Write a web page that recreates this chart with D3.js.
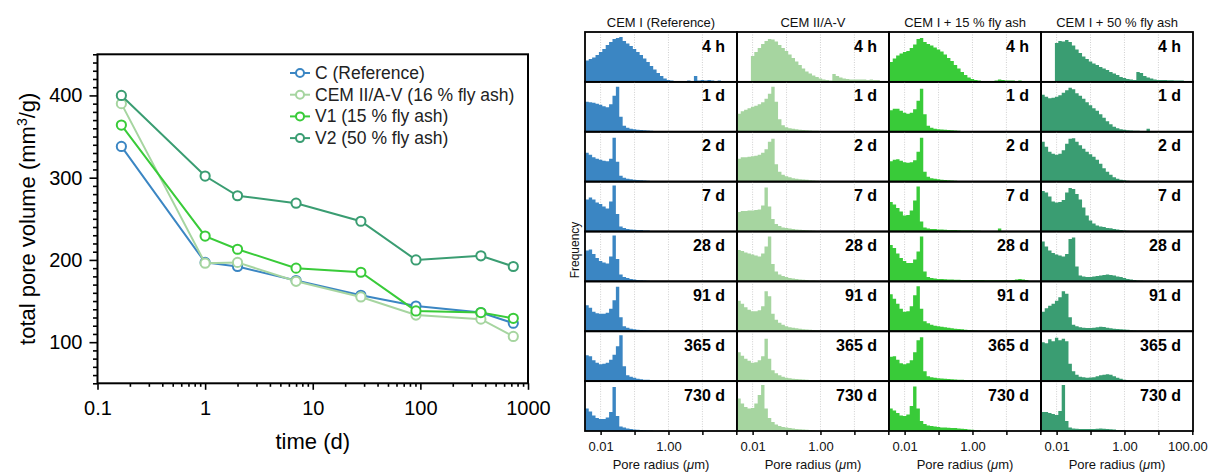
<!DOCTYPE html>
<html>
<head>
<meta charset="utf-8">
<script src="https://cdn.jsdelivr.net/npm/d3@7"></script>
<style>
body { margin: 0; background: #fff; }
text { font-family: "Liberation Sans", Arial, Helvetica, sans-serif; }
</style>
</head>
<body>
<div id="grafico"></div>
<script>
const WIDTH = 1209;
const HEIGHT = 472;

// ---------- left: total pore volume ----------
const times = [1/6, 1, 2, 7, 28, 91, 365, 730];
const seriesNames = ["C (Reference)", "CEM II/A-V (16 % fly ash)", "V1 (15 % fly ash)", "V2 (50 % fly ash)"];
const volC     = [338, 197, 192, 175, 157, 144, 136, 123];
const volCEMII = [390, 196, 197, 174, 155, 133, 128, 107];
const volV1    = [364, 229, 213, 190, 185, 138, 136, 129];
const volV2    = [400, 302, 278, 269, 247, 200, 205, 192];
const colors = ["#3b86c3", "#a6d5a0", "#39cb39", "#3a9d72"];
const timeTicks = [0.1, 1, 10, 100, 1000];
const timeTickLabels = ["0.1", "1", "10", "100", "1000"];
const volTicks = [100, 200, 300, 400];

// ---------- right: pore radius distributions ----------
const mixTitles = ["CEM I (Reference)", "CEM II/A-V", "CEM I + 15 % fly ash", "CEM I + 50 % fly ash"];
const ages = ["4 h", "1 d", "2 d", "7 d", "28 d", "91 d", "365 d", "730 d"];
const radiusTicks = [0.01, 0.1, 1, 10, 100];
const radiusTickLabels = ["0.01", "", "1.00", "", "100.00"];
// bins are 0.1 decade wide, first bin starts at log10(r) = -2.45
const binStart = -2.45, binStep = 0.1;

const histCEMI = [
  [0.43,0.46,0.49,0.54,0.6,0.66,0.74,0.8,0.86,0.88,0.9,0.82,0.77,0.72,0.66,0.6,0.54,0.47,0.4,0.32,0.25,0.18,0.12,0.07,0.04,0.03,0.02,0.02,0.02,0.02,0.03,0.02,0.12,0.03,0.04,0.03,0.04,0.03,0.02,0.03,0.02,0.02,0.01],
  [0.6,0.59,0.58,0.56,0.54,0.51,0.49,0.55,0.72,0.9,0.3,0.12,0.08,0.06,0.05,0.04,0.035,0.03,0.025,0.02,0.015,0.01,0.01,0.005,0.005,0.005],
  [0.58,0.54,0.49,0.46,0.44,0.42,0.41,0.46,0.88,0.4,0.12,0.08,0.06,0.05,0.04,0.035,0.03,0.025,0.02,0.015,0.01,0.01,0.005],
  [0.64,0.68,0.64,0.58,0.55,0.5,0.46,0.6,0.92,0.35,0.1,0.07,0.05,0.04,0.035,0.03,0.03,0.02,0.02,0.01,0.01],
  [0.62,0.64,0.55,0.47,0.41,0.38,0.36,0.5,0.92,0.45,0.14,0.09,0.07,0.05,0.04,0.03,0.025,0.02,0.015,0.01,0.01],
  [0.52,0.47,0.39,0.36,0.35,0.35,0.37,0.45,0.62,0.89,0.28,0.1,0.07,0.05,0.04,0.03,0.025,0.02,0.015,0.01,0.01],
  [0.52,0.5,0.42,0.37,0.34,0.35,0.37,0.43,0.53,0.7,0.92,0.3,0.12,0.09,0.07,0.05,0.04,0.03,0.03,0.02,0.015,0.01],
  [0.45,0.39,0.31,0.26,0.24,0.24,0.27,0.38,0.88,0.3,0.09,0.07,0.05,0.04,0.03,0.025,0.02,0.015,0.01,0.01]
];
const histCEMII = [
  [0,0,0,0,0.52,0.6,0.68,0.76,0.82,0.86,0.85,0.81,0.74,0.68,0.62,0.55,0.48,0.41,0.34,0.27,0.21,0.17,0.13,0.1,0.07,0.05,0.04,0.03,0.16,0.12,0.09,0.07,0.06,0.05,0.05,0.05,0.05,0.05,0.04,0.05,0.04,0.04],
  [0.36,0.41,0.44,0.47,0.5,0.52,0.55,0.59,0.66,0.76,0.9,0.6,0.25,0.13,0.09,0.07,0.06,0.05,0.04,0.035,0.03,0.025,0.02,0.02,0.015,0.01,0.01,0.01,0.01],
  [0.46,0.49,0.49,0.5,0.51,0.52,0.54,0.58,0.65,0.8,0.86,0.35,0.2,0.14,0.11,0.09,0.07,0.06,0.05,0.045,0.04,0.03,0.025,0.02,0.015,0.01],
  [0.39,0.41,0.41,0.42,0.42,0.43,0.44,0.52,0.88,0.5,0.25,0.15,0.11,0.08,0.07,0.06,0.05,0.04,0.035,0.03,0.025,0.02,0.015,0.01,0.01],
  [0.63,0.61,0.58,0.56,0.54,0.52,0.5,0.56,0.7,0.9,0.35,0.2,0.14,0.11,0.09,0.07,0.06,0.05,0.04,0.035,0.03,0.02,0.02,0.015,0.01,0.01],
  [0.61,0.55,0.48,0.43,0.4,0.4,0.42,0.5,0.8,0.7,0.35,0.23,0.17,0.13,0.1,0.08,0.07,0.06,0.05,0.04,0.035,0.03,0.025,0.02,0.015,0.01,0.01],
  [0.58,0.51,0.45,0.41,0.37,0.38,0.42,0.5,0.85,0.45,0.22,0.16,0.12,0.09,0.07,0.06,0.05,0.045,0.04,0.035,0.03,0.025,0.02,0.02,0.015,0.01,0.01,0.01,0.005],
  [0.65,0.55,0.48,0.45,0.46,0.55,0.72,0.92,0.45,0.26,0.18,0.13,0.1,0.08,0.07,0.06,0.05,0.04,0.035,0.03,0.025,0.02,0.015,0.01]
];
const histV1 = [
  [0.4,0.47,0.53,0.57,0.6,0.62,0.68,0.75,0.86,0.88,0.8,0.76,0.73,0.69,0.65,0.61,0.55,0.48,0.42,0.34,0.27,0.2,0.14,0.09,0.06,0.04,0.03,0.02,0.02,0.02,0.02,0.03,0.05,0.04,0.03,0.03,0.03,0.02,0.03,0.02,0.02,0.02,0.01],
  [0.43,0.46,0.46,0.42,0.38,0.36,0.38,0.45,0.62,0.86,0.35,0.12,0.08,0.06,0.05,0.045,0.04,0.035,0.03,0.025,0.02,0.015,0.01,0.01],
  [0.41,0.44,0.45,0.42,0.39,0.38,0.39,0.43,0.6,0.88,0.2,0.1,0.07,0.06,0.05,0.04,0.035,0.03,0.025,0.02,0.015,0.01,0.01],
  [0.59,0.54,0.47,0.4,0.32,0.33,0.42,0.62,0.9,0.2,0.08,0.06,0.05,0.05,0.04,0.04,0.035,0.03,0.03,0.03,0.025,0.02,0.02,0.02,0.02,0.015,0.015,0.01,0.01,0.01,0.01,0.01,0.06,0.01],
  [0.73,0.67,0.56,0.47,0.41,0.37,0.37,0.44,0.6,0.9,0.2,0.09,0.07,0.06,0.05,0.05,0.045,0.04,0.04,0.035,0.035,0.03,0.03,0.03,0.03,0.03,0.03,0.03,0.025,0.025,0.025,0.025,0.025,0.025,0.025,0.025,0.03,0.04,0.05,0.04,0.03],
  [0.74,0.65,0.55,0.45,0.39,0.4,0.5,0.72,0.9,0.45,0.2,0.16,0.13,0.11,0.1,0.09,0.08,0.07,0.06,0.05,0.045,0.04,0.03,0.025,0.02,0.015,0.01,0.01,0.005],
  [0.49,0.5,0.43,0.36,0.34,0.36,0.42,0.58,0.82,0.88,0.2,0.1,0.08,0.07,0.06,0.055,0.05,0.045,0.04,0.035,0.03,0.03,0.025,0.02,0.02,0.015,0.01],
  [0.45,0.41,0.36,0.31,0.3,0.33,0.5,0.89,0.45,0.2,0.14,0.11,0.1,0.09,0.08,0.07,0.07,0.065,0.06,0.06,0.05,0.045,0.04,0.03,0.025,0.015,0.01]
];
const histV2 = [
  [0,0,0,0,0.78,0.82,0.81,0.84,0.8,0.73,0.65,0.58,0.51,0.46,0.41,0.37,0.34,0.3,0.27,0.24,0.2,0.17,0.14,0.1,0.08,0.06,0.05,0.04,0.2,0.18,0.12,0.09,0.07,0.05,0.04,0.04,0.04,0.035,0.035,0.03,0.03,0.03],
  [0.74,0.7,0.67,0.68,0.7,0.73,0.78,0.83,0.88,0.85,0.77,0.72,0.66,0.59,0.53,0.47,0.42,0.35,0.28,0.21,0.15,0.1,0.07,0.05,0.04,0.03,0.025,0.02,0.02,0.015,0.015,0.06,0.015,0.01,0.01,0.01,0.01,0.01,0.01,0.01,0.01,0.01],
  [0.8,0.7,0.6,0.56,0.54,0.56,0.63,0.76,0.86,0.87,0.8,0.73,0.66,0.6,0.55,0.5,0.44,0.36,0.27,0.2,0.14,0.09,0.06,0.04,0.03,0.02,0.015,0.01,0.01],
  [0.81,0.78,0.7,0.6,0.58,0.59,0.63,0.78,0.87,0.85,0.75,0.64,0.48,0.32,0.22,0.16,0.12,0.1,0.09,0.07,0.065,0.05,0.04,0.03,0.02,0.015,0.01],
  [0.8,0.7,0.62,0.57,0.54,0.52,0.5,0.55,0.85,0.88,0.3,0.12,0.1,0.09,0.09,0.1,0.11,0.12,0.13,0.14,0.13,0.12,0.1,0.09,0.07,0.05,0.04,0.03,0.02,0.015,0.01],
  [0.39,0.46,0.51,0.55,0.61,0.68,0.8,0.75,0.28,0.13,0.1,0.08,0.07,0.065,0.065,0.07,0.08,0.09,0.085,0.07,0.06,0.05,0.045,0.04,0.035,0.03,0.02,0.015,0.01,0.01],
  [0.78,0.76,0.84,0.8,0.87,0.82,0.85,0.8,0.35,0.2,0.13,0.09,0.08,0.07,0.075,0.08,0.1,0.12,0.13,0.14,0.13,0.1,0.07,0.05,0.03,0.02,0.01],
  [0.38,0.38,0.36,0.34,0.32,0.4,0.92,0.2,0.07,0.05,0.045,0.04,0.04,0.04,0.04,0.04,0.045,0.05,0.045,0.04,0.035,0.03,0.02,0.015,0.01]
];

let svg = d3.select("#grafico")
    .append("svg")
    .attr("width", WIDTH)
    .attr("height", HEIGHT);

// ================= left chart =================
const box = {left: 97.5, right: 528, top: 54.3, bottom: 383.3};
let x = d3.scaleLog().domain([0.1, 1000]).range([box.left, box.right]);
let y = d3.scaleLinear().domain([50, 450]).range([box.bottom, box.top]);

let left = svg.append("g");

const isDecade = d => Math.abs(Math.log10(d) - Math.round(Math.log10(d))) < 1e-9;

let xMinorAxis = left.append("g")
    .attr("transform", `translate(0,${box.bottom})`)
    .call(d3.axisBottom(x).tickValues(x.ticks().filter(d => !isDecade(d))).tickSize(3.5).tickFormat(""));
let xMajorAxis = left.append("g")
    .attr("transform", `translate(0,${box.bottom})`)
    .call(d3.axisBottom(x).tickValues(timeTicks).tickSize(6.5).tickPadding(11)
        .tickFormat((d, i) => timeTickLabels[i]));
let yMinorAxis = left.append("g")
    .attr("transform", `translate(${box.left},0)`)
    .call(d3.axisLeft(y).tickValues(y.ticks(40).filter(d => d % 100 !== 0)).tickSize(4.5).tickFormat(""));
let yMajorAxis = left.append("g")
    .attr("transform", `translate(${box.left},0)`)
    .call(d3.axisLeft(y).tickValues(volTicks).tickSize(8).tickPadding(7));

[xMinorAxis, xMajorAxis, yMinorAxis, yMajorAxis].forEach(a => {
    a.select(".domain").remove();
    a.selectAll("line").style("stroke", "#000").style("stroke-width", 1.6);
    a.selectAll("text").style("font-size", "20px").style("fill", "#000");
});

left.append("rect")
    .attr("x", box.left).attr("y", box.top)
    .attr("width", box.right - box.left).attr("height", box.bottom - box.top)
    .style("fill", "none").style("stroke", "#000").style("stroke-width", 2);

const allSeries = [volC, volCEMII, volV1, volV2];
let line = d3.line().x(d => x(d[0])).y(d => y(d[1]));

allSeries.forEach((vals, s) => {
    let pts = times.map((t, i) => [t, vals[i]]);
    left.append("path")
        .attr("d", line(pts))
        .style("fill", "none")
        .style("stroke", colors[s])
        .style("stroke-width", 2);
    left.selectAll(".pt" + s)
        .data(pts)
        .enter()
        .append("circle")
        .attr("cx", d => x(d[0]))
        .attr("cy", d => y(d[1]))
        .attr("r", 4.6)
        .style("fill", "#fff")
        .style("stroke", colors[s])
        .style("stroke-width", 2);
});

// legend
seriesNames.forEach((name, s) => {
    let ly = 73 + s * 21.7;
    left.append("line")
        .attr("x1", 290).attr("x2", 310).attr("y1", ly).attr("y2", ly)
        .style("stroke", colors[s]).style("stroke-width", 2);
    left.append("circle")
        .attr("cx", 300).attr("cy", ly).attr("r", 4)
        .style("fill", "#fff").style("stroke", colors[s]).style("stroke-width", 2);
    left.append("text")
        .attr("x", 315).attr("y", ly + 6)
        .style("font-size", "17.5px")
        .style("fill", "#222")
        .text(name);
});

// axis titles
left.append("text")
    .attr("x", (box.left + box.right) / 2)
    .attr("y", 449)
    .attr("text-anchor", "middle")
    .style("font-size", "22px")
    .text("time (d)");

let yTitle = left.append("text")
    .attr("transform", `translate(35,${(box.top + box.bottom) / 2}) rotate(-90)`)
    .attr("text-anchor", "middle")
    .style("font-size", "22px");
yTitle.append("tspan").text("total pore volume (mm");
yTitle.append("tspan").attr("dy", -8).style("font-size", "14px").text("3");
yTitle.append("tspan").attr("dy", 8).text("/g)");

// ================= right grid =================
const grid = {left: 585, right: 1193, top: 32, bottom: 431};
const colW = (grid.right - grid.left) / mixTitles.length;
const rowH = (grid.bottom - grid.top) / ages.length;
const allHists = [histCEMI, histCEMII, histV1, histV2];

let right = svg.append("g");
let defs = svg.append("defs");

mixTitles.forEach((title, c) => {
    let x0 = grid.left + c * colW;
    let xs = d3.scaleLog()
        .domain([Math.pow(10, -2.46), Math.pow(10, 2.02)])
        .range([x0, x0 + colW]);

    right.append("text")
        .attr("x", x0 + colW / 2)
        .attr("y", 27)
        .attr("text-anchor", "middle")
        .style("font-size", "13px")
        .style("fill", "#111")
        .text(title);

    ages.forEach((age, r) => {
        let y0 = grid.top + r * rowH;
        let ys = d3.scaleLinear().domain([0, 1]).range([y0 + rowH, y0]);
        let clipId = `clip-${c}-${r}`;
        defs.append("clipPath").attr("id", clipId)
            .append("rect").attr("x", x0).attr("y", y0).attr("width", colW).attr("height", rowH);

        let panel = right.append("g").attr("clip-path", `url(#${clipId})`);

        panel.selectAll(".grid")
            .data(radiusTicks.slice(0, 4))
            .enter()
            .append("line")
            .attr("x1", d => xs(d)).attr("x2", d => xs(d))
            .attr("y1", y0).attr("y2", y0 + rowH)
            .style("stroke", "#cfcfcf")
            .style("stroke-width", 1)
            .style("stroke-dasharray", "1,1.5");

        let hist = allHists[c][r];
        let pts = hist.map((v, i) => ({e: binStart + i * binStep, v: v}));
        pts.push({e: binStart + hist.length * binStep, v: hist[hist.length - 1]});
        let area = d3.area()
            .x(d => xs(Math.pow(10, d.e)))
            .y0(ys(0))
            .y1(d => ys(d.v))
            .curve(d3.curveStepAfter);
        panel.append("path")
            .attr("d", area(pts))
            .style("fill", colors[c]);

        right.append("rect")
            .attr("x", x0).attr("y", y0)
            .attr("width", colW).attr("height", rowH)
            .style("fill", "none")
            .style("stroke", "#000")
            .style("stroke-width", 1.8);

        right.append("text")
            .attr("x", x0 + colW - 12)
            .attr("y", y0 + 19.5)
            .attr("text-anchor", "end")
            .style("font-size", "16px")
            .style("font-weight", "bold")
            .text(age);
    });

    let ax = right.append("g")
        .attr("transform", `translate(0,${grid.bottom})`)
        .call(d3.axisBottom(xs).tickValues(radiusTicks).tickSize(4).tickPadding(7)
            .tickFormat((d, i) => (i === 4 && c < 3) ? "" : radiusTickLabels[i]));
    ax.select(".domain").remove();
    ax.selectAll("line").style("stroke", "#000").style("stroke-width", 1.5);
    ax.selectAll("text").style("font-size", "13px").style("fill", "#111");
    // keep the last label inside the picture
    ax.selectAll("text").filter((d, i) => i === 4).attr("dx", -5);

    let xl = right.append("text")
        .attr("x", x0 + colW / 2)
        .attr("y", 469)
        .attr("text-anchor", "middle")
        .style("font-size", "13px")
        .style("fill", "#111");
    xl.append("tspan").text("Pore radius (");
    xl.append("tspan").style("font-style", "italic").text("\u03bc");
    xl.append("tspan").text("m)");
});

right.append("text")
    .attr("transform", "translate(579,250) rotate(-90)")
    .attr("text-anchor", "middle")
    .style("font-size", "12px")
    .style("fill", "#111")
    .text("Frequency");
</script>
</body>
</html>
